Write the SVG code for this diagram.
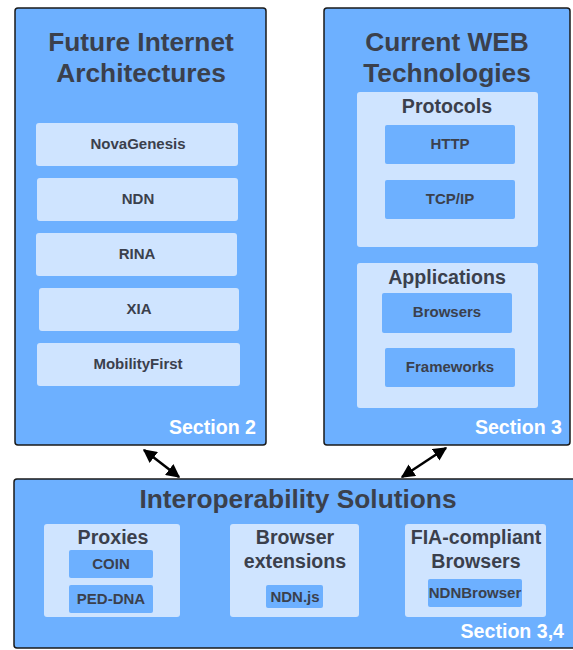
<svg xmlns="http://www.w3.org/2000/svg" width="573" height="650" viewBox="0 0 573 650">
<style>
.outer{fill:#6db0ff;stroke:#1a1a1a;stroke-width:1.5}
.light{fill:#cfe4ff}
.mid{fill:#6db0ff}
text{font-family:"Liberation Sans",Arial,sans-serif;font-weight:bold;fill:#3b404c;text-anchor:middle}
.t1{font-size:26.3px}
.t2{font-size:19.6px}
.t3{font-size:15px}
.sec{font-size:19.6px;fill:#ffffff;text-anchor:end}
</style>
<defs>
<marker id="ah" viewBox="0 0 10 10" refX="9" refY="5" markerWidth="5.5" markerHeight="5.5" orient="auto-start-reverse">
<path d="M0,0 L10,5 L0,10 z" fill="#000"/>
</marker>
</defs>
<rect width="573" height="650" fill="#ffffff"/>
<g id="fia">
<rect class="outer" x="15" y="8" width="251" height="437" rx="3"/>
<text class="t1" x="141" y="51">Future Internet</text>
<text class="t1" x="141" y="82">Architectures</text>
<g id="novagenesis"><rect class="light" x="36" y="123" width="202" height="43" rx="3"/><text class="t3" x="138" y="149">NovaGenesis</text></g>
<g id="ndn"><rect class="light" x="37" y="178" width="201" height="43" rx="3"/><text class="t3" x="138" y="204">NDN</text></g>
<g id="rina"><rect class="light" x="36" y="233" width="201" height="43" rx="3"/><text class="t3" x="137" y="259">RINA</text></g>
<g id="xia"><rect class="light" x="39" y="288" width="200" height="43" rx="3"/><text class="t3" x="139" y="314">XIA</text></g>
<g id="mobilityfirst"><rect class="light" x="37" y="343" width="203" height="43" rx="3"/><text class="t3" x="138" y="369">MobilityFirst</text></g>
<text class="sec" x="256" y="434">Section 2</text>
</g>
<g id="web">
<rect class="outer" x="324" y="8" width="246" height="437" rx="3"/>
<text class="t1" x="447" y="51">Current WEB</text>
<text class="t1" x="447" y="82">Technologies</text>
<g id="protocols">
<rect class="light" x="357" y="92" width="181" height="155" rx="3"/>
<text class="t2" x="447" y="113">Protocols</text>
<g id="http"><rect class="mid" x="385" y="125" width="130" height="39" rx="2"/><text class="t3" x="450" y="149">HTTP</text></g>
<g id="tcpip"><rect class="mid" x="385" y="180" width="130" height="39" rx="2"/><text class="t3" x="450" y="204">TCP/IP</text></g>
</g>
<g id="applications">
<rect class="light" x="357" y="263" width="181" height="145" rx="3"/>
<text class="t2" x="447" y="284">Applications</text>
<g id="browsers"><rect class="mid" x="382" y="293" width="130" height="40" rx="2"/><text class="t3" x="447" y="317">Browsers</text></g>
<g id="frameworks"><rect class="mid" x="385" y="348" width="130" height="39" rx="2"/><text class="t3" x="450" y="372">Frameworks</text></g>
</g>
<text class="sec" x="562" y="434">Section 3</text>
</g>
<g id="interop">
<rect class="outer" x="14" y="479" width="570" height="169" rx="3"/>
<text class="t1" x="298" y="508">Interoperability Solutions</text>
<g id="proxies">
<rect class="light" x="44" y="524" width="136" height="93" rx="3"/>
<text class="t2" x="113" y="544">Proxies</text>
<g id="coin"><rect class="mid" x="69" y="550" width="84" height="28" rx="2"/><text class="t3" x="111" y="569">COIN</text></g>
<g id="peddna"><rect class="mid" x="69" y="585" width="84" height="28" rx="2"/><text class="t3" x="111" y="604">PED-DNA</text></g>
</g>
<g id="browserext">
<rect class="light" x="230" y="524" width="129" height="93" rx="3"/>
<text class="t2" x="295" y="544">Browser</text>
<text class="t2" x="295" y="568">extensions</text>
<g id="ndnjs"><rect class="mid" x="266" y="585" width="57" height="23" rx="2"/><text class="t3" x="295" y="602">NDN.js</text></g>
</g>
<g id="fiabrowsers">
<rect class="light" x="405" y="524" width="141" height="93" rx="3"/>
<text class="t2" x="476" y="544">FIA-compliant</text>
<text class="t2" x="476" y="568">Browsers</text>
<g id="ndnbrowser"><rect class="mid" x="428" y="579" width="94" height="28" rx="2"/><text class="t3" x="475" y="598">NDNBrowser</text></g>
</g>
<text class="sec" x="564" y="638">Section 3,4</text>
</g>
<g id="connectors" stroke="#000" stroke-width="2.5" fill="none">
<line x1="144" y1="450" x2="179" y2="477" marker-start="url(#ah)" marker-end="url(#ah)"/>
<line x1="446" y1="448" x2="402" y2="477" marker-start="url(#ah)" marker-end="url(#ah)"/>
</g>
</svg>
